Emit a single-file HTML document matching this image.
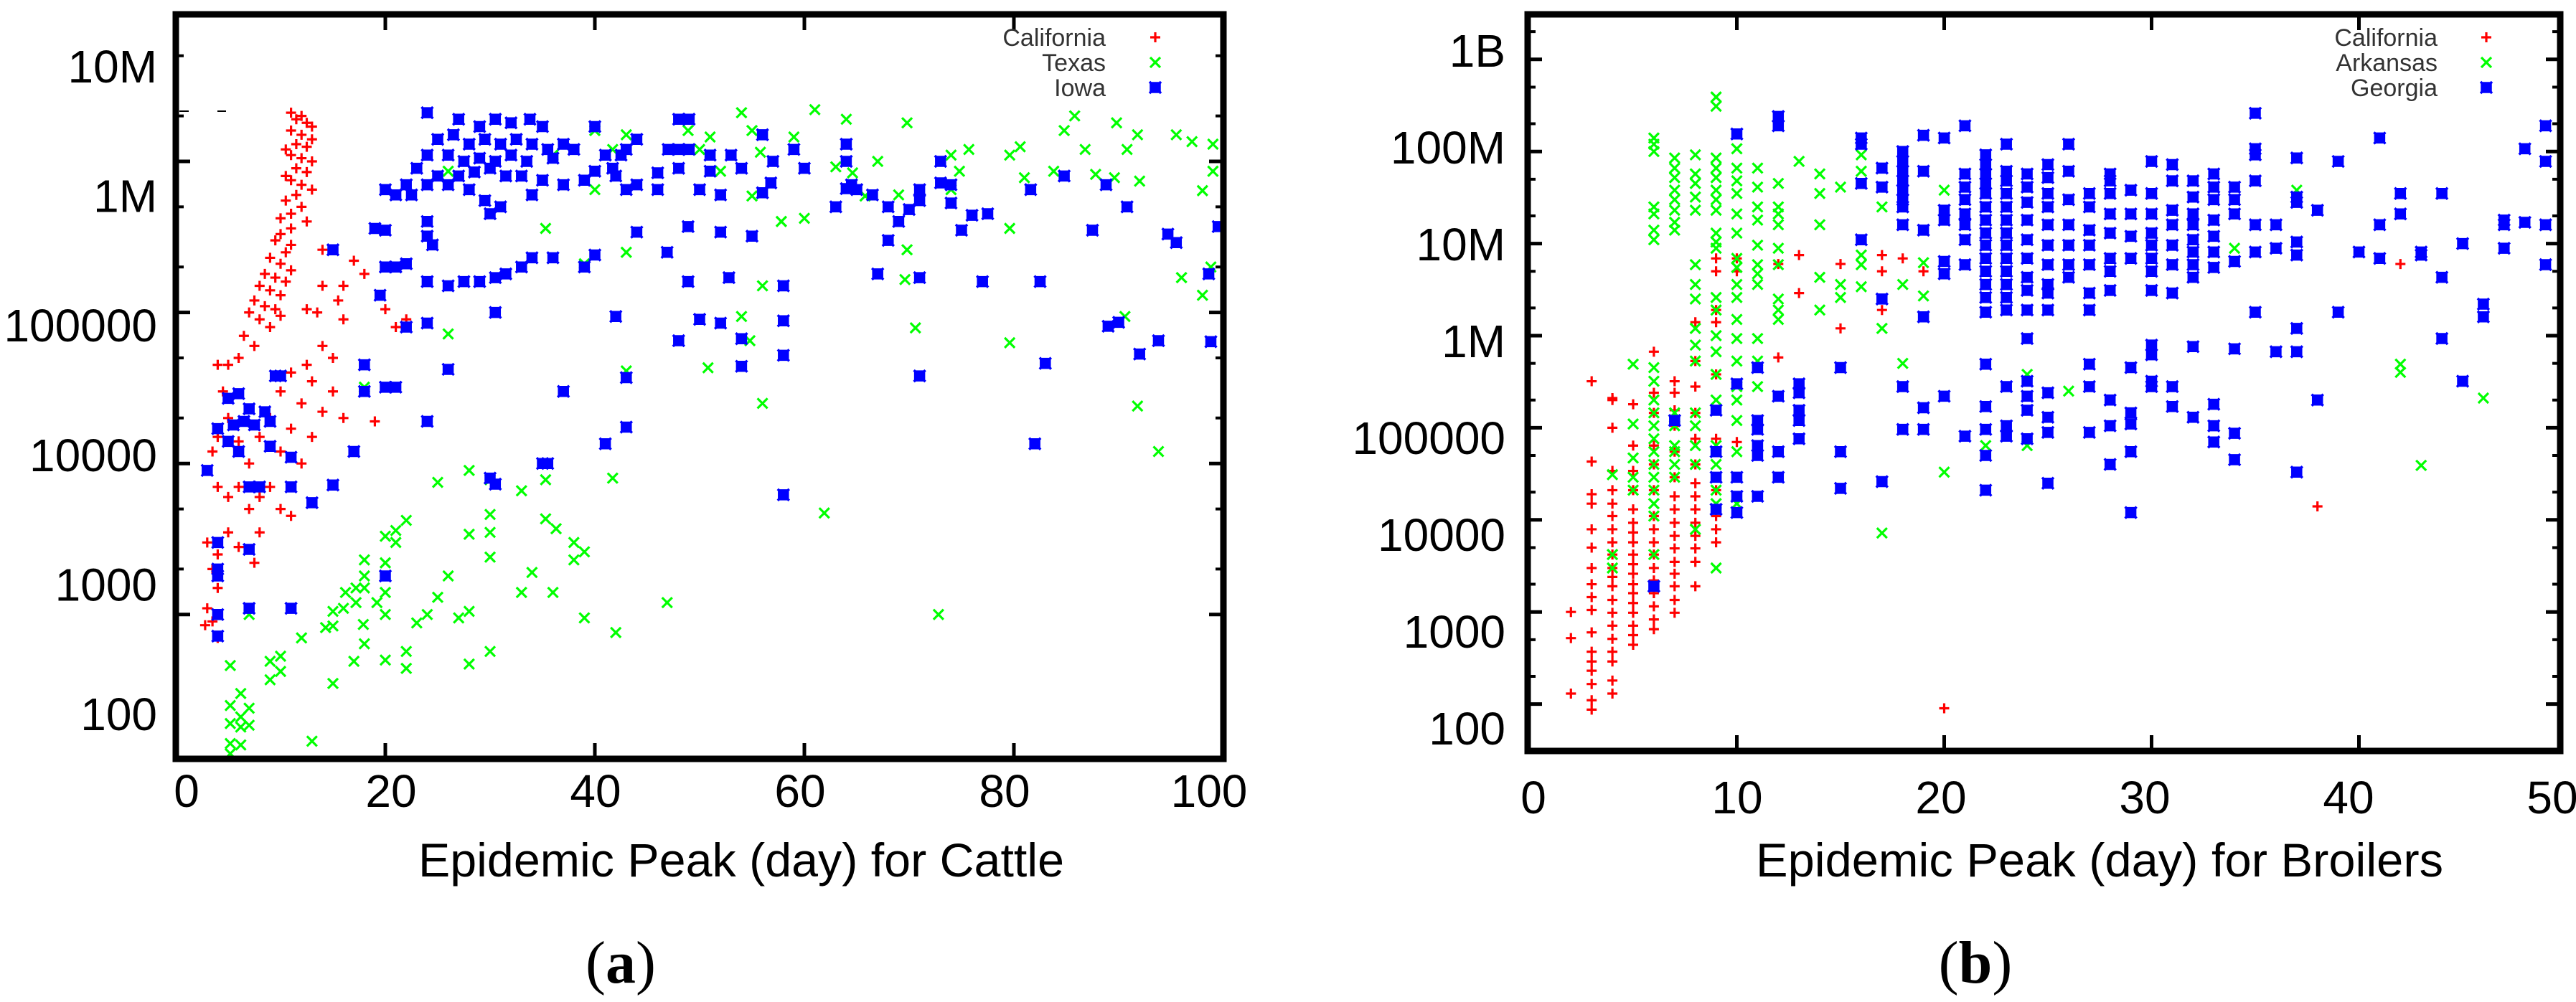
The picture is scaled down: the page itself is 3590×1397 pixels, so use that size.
<!DOCTYPE html>
<html><head><meta charset="utf-8"><style>
html,body{margin:0;padding:0;background:#fff;}
svg{display:block;}
text{font-family:"Liberation Sans",sans-serif;}
</style></head><body>
<svg id="chart" width="3590" height="1397" viewBox="0 0 3590 1397" xmlns="http://www.w3.org/2000/svg">
<g id="panelA"></g>
<g id="panelB"></g>
</svg>
<script>
// ---------- Panel (a) data: [day, peak size] ----------
const caliA = [[11,2.1e6],[12,2e6],[11.5,1.9e6],[12.5,1.8e6],[13,1.7e6],[11,1.6e6],[12,1.5e6],[13,1.4e6],[11.5,1.3e6],[12.5,1.25e6],[10.5,1.2e6],[11,1.1e6],[12,1.05e6],[13,1e6],[11.5,9e5],[12.5,8.5e5],[10.5,8e5],[11,7.5e5],[12,7e5],[13,6.5e5],[11.5,6e5],[10.5,5.5e5],[12,5e5],[11,4.5e5],[10,4.2e5],[12.5,4e5],[11,3.6e5],[10,3.3e5],[9.5,3e5],[11,2.8e5],[10.5,2.5e5],[9,2.3e5],[10,2.1e5],[11,1.9e5],[8.5,1.8e5],[9.5,1.7e5],[10.5,1.6e5],[8,1.5e5],[9,1.4e5],[10,1.3e5],[7.5,1.2e5],[8.5,1.1e5],[9.5,1.05e5],[7,1e5],[8,9e4],[9,8e4],[10,9.5e4],[6.5,7e4],[7.5,6e4],
[14,2.6e5],[17,2.2e5],[18,1.8e5],[16,1.5e5],[14,1.5e5],[12.5,1.05e5],[20,1.05e5],[22,9e4],[15.5,1.2e5],[13.5,1e5],[16,9e4],[21,8e4],[14,6e4],[15,5e4],[12.5,4.5e4],[11,4e4],[13,3.5e4],[15,3e4],[10,3e4],[12,2.5e4],[14,2.2e4],[16,2e4],[9,2e4],[11,1.7e4],[13,1.5e4],[19,1.9e4],[8,1.5e4],[10,1.2e4],[12,1e4],[6,5e4],[5,4.5e4],[4,4.5e4],[4.5,3e4],[5,2e4],[4,1.5e4],[3.5,1.2e4],[6,1.4e4],[7,1e4],[4,7e3],[5,6e3],[6,7e3],[7,5e3],[8,6e3],[9,7e3],[10,5e3],[11,4.5e3],[3,3e3],[4,2.5e3],[5,3.5e3],[6,2.8e3],[8,3.5e3],[3.5,2e3],[4,1.5e3],[7.5,2.2e3],[3,1.1e3],[3.5,900],[2.8,850],[4,700]];
const texasA = [[54,2.1e6],[61,2.2e6],[64,1.9e6],[69.8,1.8e6],[85.8,2e6],[89.8,1.8e6],[84.8,1.6e6],[91.8,1.5e6],[95.5,1.5e6],[97,1.35e6],[99,1.3e6],[86.8,1.2e6],[90.8,1.2e6],[80.6,1.25e6],[79.6,1.1e6],[75.7,1.2e6],[74,1.1e6],[74.8,8.6e5],[83.8,8.6e5],[81,7.8e5],[87.8,8.2e5],[92,7.4e5],[89.6,7.8e5],[98,6.4e5],[99,8.6e5],[67,1e6],[64.6,8.4e5],[63,9.2e5],[59,1.45e6],[55.8,1.15e6],[55,1.6e6],[51,1.45e6],[48.9,1.6e6],[50,1.2e6],[52,8.6e5],[55,5.9e5],[57.8,4e5],[60,4.2e5],[65.8,5.9e5],[69,6e5],[74,6.5e5],[79.6,3.6e5],[69.8,2.6e5],[69.6,1.65e5],[70.6,7.9e4],[79.6,6.3e4],[90.6,9.4e4],[96,1.7e5],[98,1.3e5],[98.8,2e5],[91.8,2.4e4],[93.8,1.2e4],[40,1.6e6],[41.7,1.2e6],[43,1.5e6],[40,6.5e5],[43,2.5e5],[39,2.1e5],[35.3,3.6e5],[26,8.6e5],[36,1.1e6],[56,1.5e5],[54,9.4e4],[54.8,6.5e4],[50.8,4.3e4],[43,4.1e4],[56,2.5e4],[26,7.2e4],[18,3.2e4],[41.7,8e3],[35.3,7.8e3],[33,6.6e3],[30,7.8e3],[25,7.5e3],[28,9e3],[61.9,4.7e3],[35.3,4.3e3],[36.3,3.7e3],[30,4.6e3],[30,3.5e3],[28,3.4e3],[22,4.2e3],[21,3.6e3],[20,3.3e3],[21,3e3],[38,3e3],[39,2.6e3],[38,2.3e3],[30,2.4e3],[34,1.9e3],[26,1.8e3],[18,2.3e3],[18,1.8e3],[20,2.2e3],[18,1.5e3],[17.2,1.5e3],[16.2,1.4e3],[20,1.4e3],[17.2,1.2e3],[16,1.1e3],[19.2,1.2e3],[15,1.05e3],[33,1.4e3],[36,1.4e3],[46.9,1.2e3],[72.8,1e3],[28,1.05e3],[27,950],[25,1.3e3],[24,1e3],[23,880],[20,1e3],[17.9,860],[15,840],[14.3,820],[12,700],[7,1e3],[39,950],[42,760],[18,640],[22,570],[30,570],[20,500],[22,440],[28,470],[17,490],[10,530],[9,490],[10,420],[9,370],[15,350],[5.2,460],[6.2,300],[5.2,250],[7,240],[6.2,210],[5.2,190],[6.2,180],[7,185],[5.2,140],[6.2,137],[5.2,120],[13,145]];
const iowaA = [[24,2.1e6],[27,1.9e6],[29,1.7e6],[30.5,1.9e6],[32,1.8e6],[33.8,1.9e6],[35,1.7e6],[25,1.4e6],[26.5,1.5e6],[28,1.3e6],[29.5,1.4e6],[31,1.3e6],[32.5,1.4e6],[34,1.3e6],[35.5,1.2e6],[37,1.3e6],[38,1.2e6],[24,1.1e6],[26,1.1e6],[27.5,1e6],[29,1.05e6],[30.5,1e6],[32,1.1e6],[33.5,1e6],[36,1.05e6],[23,9e5],[25,8e5],[27,8e5],[28.5,8.5e5],[30,9e5],[31.5,8e5],[33,8e5],[35,7.5e5],[37,7e5],[39,7.5e5],[22,7e5],[24,7e5],[26,7e5],[28,6.5e5],[29.5,5.5e5],[31,5e5],[30,4.5e5],[34,6e5],[20,6.5e5],[21,6e5],[22.5,6e5],[24,4e5],[24,3.2e5],[24.5,2.8e5],[20,3.5e5],[19,3.6e5],[15,2.6e5],[20,2e5],[21,2e5],[22,2.1e5],[24,1.6e5],[26,1.5e5],[27.5,1.6e5],[29,1.6e5],[30.5,1.7e5],[31.5,1.8e5],[33,2e5],[34,2.3e5],[36,2.3e5],[39,2e5],[40,2.4e5],[30.5,1e5],[22,8e4],[24,8.5e4],[19.5,1.3e5],[18,4.5e4],[18,3e4],[20,3.2e4],[21,3.2e4],[24,1.9e4],[26,4.2e4],[37,3e4],[5,2.7e4],[6,2.9e4],[7,2.3e4],[8.5,2.2e4],[9.5,3.8e4],[10,3.8e4],[5.5,1.8e4],[6.5,1.9e4],[7.5,1.8e4],[9,1.9e4],[4,1.7e4],[5,1.4e4],[6,1.2e4],[9,1.3e4],[11,1.1e4],[3,9e3],[7,7e3],[8,7e3],[11,7e3],[13,5.5e3],[15,7.2e3],[17,1.2e4],[4,3e3],[4,2e3],[4,1.8e3],[7,2.7e3],[4,1e3],[4,720],[7,1.1e3],[11,1.1e3],[20,1.8e3],[30.5,7.3e3],[35.5,1e4],[41,1.35e4],[43,1.74e4],[58,6.2e3],[82,1.35e4],[43,3.7e4],[42,9.4e4],[48,6.5e4],[50,9e4],[52,8.5e4],[54,6.7e4],[54,4.4e4],[58,8.8e4],[58,5.2e4],[71,3.8e4],[83,4.6e4],[89,8.1e4],[90,8.6e4],[92,5.3e4],[93.8,6.5e4],[98.8,6.4e4],[35,1e4],[30,8e3],[40,1.7e6],[41,1.1e6],[42.5,1.1e6],[43,1.2e6],[44,1.4e6],[48,1.9e6],[49,1.9e6],[48,1.2e6],[49,1.2e6],[47,1.2e6],[51,1.1e6],[53,1.1e6],[56,1.5e6],[59,1.2e6],[64,1.3e6],[44,7e5],[43,6.5e5],[42,8e5],[46,6.5e5],[50,6.5e5],[52,6e5],[56,6.2e5],[57,1e6],[64.5,7e5],[65,6.5e5],[66.5,6e5],[68,5e5],[69,4e5],[71,6.5e5],[71,5.5e5],[73,1e6],[74,7e5],[77.5,4.5e5],[76,4.4e5],[75,3.5e5],[68,3e5],[84.8,8e5],[81.6,6.5e5],[88.8,7e5],[90.8,5e5],[87.5,3.5e5],[94.7,3.3e5],[95.5,2.9e5],[99.5,3.7e5],[98.6,1.8e5],[82.5,1.6e5],[77,1.6e5],[71,1.7e5],[67,1.8e5],[58,1.5e5],[52.8,1.7e5],[48.9,1.6e5],[46.9,2.5e5],[55,3.2e5],[52,3.4e5],[48.9,3.7e5],[44,3.4e5],[60,9e5],[64,1e6],[64,6.6e5],[56.8,7.2e5],[54,9e5],[51,8.6e5],[48,9e5],[46,8.4e5],[41.7,9e5],[40,8.6e5],[73,7.2e5],[74,5.3e5],[70,4.8e5],[63,5e5]];
const yTicksA = [100,1000,10000,100000,1e6,1e7];
const yLabelsA = ["100","1000","10000","100000","1M","10M"];
const xTicksA = [0,20,40,60,80,100];

// ---------- Panel (b) data ----------
const caliB = [[2,1e3],[2,520],[2,130],
[3,3.2e5],[3,4.3e4],[3,1.9e4],[3,1.5e4],[3,7.9e3],[3,5e3],[3,3e3],[3,2e3],[3,1.45e3],[3,1.05e3],[3,600],[3,370],[3,290],[3,230],[3,165],[3,110],[3,87],
[4,2.1e5],[4,2e5],[4,1e5],[4,3.4e4],[4,2.1e4],[4,1.5e4],[4,1.1e4],[4,7.9e3],[4,5.7e3],[4,4.2e3],[4,3e3],[4,2.4e3],[4,1.9e3],[4,1.35e3],[4,980],[4,710],[4,510],[4,370],[4,290],[4,180],[4,130],
[5,1.8e5],[5,6.4e4],[5,3.4e4],[5,2.1e4],[5,1.3e4],[5,9.3e3],[5,7.3e3],[5,5.7e3],[5,4.2e3],[5,3.3e3],[5,2.6e3],[5,2e3],[5,1.6e3],[5,1.25e3],[5,980],[5,710],[5,560],[5,440],
[6,6.7e5],[6,2.4e5],[6,1.45e5],[6,6.4e4],[6,4e4],[6,2.1e4],[6,1.1e4],[6,7.9e3],[6,5.7e3],[6,4.2e3],[6,3e3],[6,2.2e3],[6,1.6e3],[6,1.15e3],[6,830],[6,650],
[7,3.2e5],[7,2.4e5],[7,1.55e5],[7,1.05e5],[7,5.5e4],[7,2.9e4],[7,1.8e4],[7,1.3e4],[7,9.3e3],[7,6.7e3],[7,4.9e3],[7,3.5e3],[7,2.6e3],[7,1.9e3],[7,1.35e3],[7,980],
[8,1.4e6],[8,5.3e5],[8,2.8e5],[8,1.45e5],[8,7.6e4],[8,4e4],[8,2.5e4],[8,1.8e4],[8,1.3e4],[8,9.3e3],[8,6.7e3],[8,4.9e3],[8,3.5e3],[8,1.9e3],
[9,6.9e6],[9,5e6],[9,1.9e6],[9,1.4e6],[9,3.8e5],[9,7.6e4],[9,2.1e4],[9,1.1e4],[9,7.9e3],[9,5.7e3],
[10,6.9e6],[10,5e6],[10,7e4],[12,6e6],[12,5.8e5],[13,7.5e6],[13,2.9e6],[15,6e6],[15,1.2e6],[17,7.5e6],[17,5e6],[17,1.9e6],[18,6.9e6],[19,5e6],[20,90],[38,1.4e4],[42,6e6]];
const arkB = [[6,1.4e8],[6,1.2e8],[6,1e8],[6,2.5e7],[6,2.1e7],[6,1.4e7],[6,1.1e7],[6,4.5e5],[6,3.2e5],[6,2e5],[6,1.45e5],[6,1.05e5],[6,7.6e4],[6,5.5e4],[6,4e4],[6,2.9e4],[6,2.1e4],[6,1.5e4],[6,1.1e4],[6,4.2e3],
[7,8.5e7],[7,6.6e7],[7,5.2e7],[7,3.8e7],[7,3e7],[7,2.3e7],[7,1.7e7],[7,1.4e7],[7,1.45e5],[7,1.05e5],[7,6.4e4],[7,5.5e4],[7,4e4],[7,2.9e4],
[8,9.2e7],[8,5.7e7],[8,4.5e7],[8,3.2e7],[8,2.3e7],[8,5.9e6],[8,3.6e6],[8,2.5e6],[8,1.2e6],[8,7.9e5],[8,5.3e5],[8,1.45e5],[8,1.05e5],[8,6.4e4],[8,4e4],[8,7.9e3],
[9,3.9e8],[9,3.1e8],[9,8.5e7],[9,6.6e7],[9,5.2e7],[9,3.8e7],[9,3e7],[9,2.3e7],[9,1.3e7],[9,1.04e7],[9,8.9e6],[9,2.6e6],[9,1.9e6],[9,1e6],[9,6.7e5],[9,3.8e5],[9,2e5],[9,6.4e4],[9,4e4],[9,2.1e4],[9,1.5e4],[9,3e3],
[10,1.07e8],[10,6.6e7],[10,4.8e7],[10,3.5e7],[10,2.1e7],[10,1.3e7],[10,6.9e6],[10,5.5e6],[10,3.6e6],[10,2.6e6],[10,1.5e6],[10,9.3e5],[10,5.3e5],[10,2.8e5],[10,2e5],[10,1.2e5],[10,5.5e4],[10,1.5e4],
[11,6.6e7],[11,4.1e7],[11,2.5e7],[11,1.8e7],[11,9.6e6],[11,5.9e6],[11,4.7e6],[11,3.6e6],[11,9.3e5],[11,5.3e5],[11,2.8e5],
[12,4.5e7],[12,2.5e7],[12,2.1e7],[12,1.6e7],[12,8.9e6],[12,5.9e6],[12,2.5e6],[12,1.9e6],[12,1.5e6],
[5,4.9e5],[5,1.1e5],[5,4.7e4],[5,2.9e4],[5,2.1e4],[4,3.1e4],[4,4.2e3],[4,3e3],
[13,7.8e7],[14,5.7e7],[14,3.5e7],[14,1.6e7],[14,4.3e6],[14,1.9e6],[15,4.1e7],[15,3.6e6],[15,2.6e6],[16,9.2e7],[16,6.1e7],[16,7.5e6],[16,5.9e6],[16,3.4e6],[17,2.5e7],[17,1.2e6],[17,7.2e3],[18,3.6e6],[18,5e5],[19,6.2e6],[19,2.7e6],[20,3.8e7],[20,3.3e4],[22,2.6e6],[22,6.4e4],[24,1.8e7],[24,3.8e5],[24,6.4e4],[26,2.5e5],[34,8.9e6],[37,3.8e7],[42,4.9e5],[42,4e5],[43,3.9e4],[46,2.1e5]];
const geoB = [[12,2.4e8],[12,1.9e8],[10,1.55e8],[16,1.4e8],[16,1.2e8],[16,4.5e7],[16,1.1e7],[17,6.6e7],[17,4.1e7],[17,2.5e6],
[18,1e8],[18,7.8e7],[18,6.1e7],[18,4.8e7],[18,3.8e7],[18,3e7],[18,2.5e7],[18,1.6e7],[18,2.8e5],[18,9.6e4],
[19,1.5e8],[19,6.1e7],[19,1.4e7],[19,1.6e6],[19,1.65e5],[19,9.6e4],
[20,1.4e8],[20,2.3e7],[20,1.8e7],[20,6.4e6],[20,4.7e6],[20,2.2e5],
[21,1.9e8],[21,5.7e7],[21,4.1e7],[21,3e7],[21,2.1e7],[21,1.6e7],[21,1.1e7],[21,5.9e6],[21,8.1e4],
[22,9.2e7],[22,7.2e7],[22,5.7e7],[22,4.5e7],[22,3.5e7],[22,2.5e7],[22,1.8e7],[22,1.3e7],[22,9.6e6],[22,6.9e6],[22,5e6],[22,3.6e6],[22,2.6e6],[22,1.8e6],[22,4.9e5],[22,1.7e5],[22,9.6e4],[22,5e4],[22,2.1e4],
[23,1.2e8],[23,6.1e7],[23,4.8e7],[23,3.5e7],[23,2.5e7],[23,1.8e7],[23,1.3e7],[23,9.6e6],[23,6.9e6],[23,5e6],[23,3.6e6],[23,2.6e6],[23,1.9e6],[23,2.8e5],[23,1.05e5],[23,8.1e4],
[24,5.7e7],[24,4.1e7],[24,2.8e7],[24,1.8e7],[24,1.1e7],[24,6.9e6],[24,4.3e6],[24,3.1e6],[24,1.9e6],[24,9.3e5],[24,3.2e5],[24,2.2e5],[24,1.55e5],[24,7.6e4],
[25,7.2e7],[25,5.2e7],[25,3.5e7],[25,2.5e7],[25,1.6e7],[25,9.6e6],[25,5.9e6],[25,3.6e6],[25,2.9e6],[25,1.9e6],[25,2.4e5],[25,1.3e5],[25,8.9e4],[25,2.5e4],
[26,1.2e8],[26,6.1e7],[26,3e7],[26,1.6e7],[26,9.6e6],[26,5.9e6],[26,4.3e6],
[27,3.5e7],[27,2.5e7],[27,1.4e7],[27,9.6e6],[27,5.9e6],[27,2.9e6],[27,1.9e6],[27,4.9e5],[27,2.8e5],[27,8.9e4],
[28,5.7e7],[28,4.8e7],[28,3.5e7],[28,2.1e7],[28,1.3e7],[28,6.9e6],[28,5e6],[28,3.1e6],[28,2e5],[28,1.05e5],[28,4e4],
[29,3.8e7],[29,2.1e7],[29,1.2e7],[29,6.9e6],[29,4.5e5],[29,1.45e5],[29,1.1e5],[29,5.5e4],[29,1.2e4],
[30,7.8e7],[30,3.5e7],[30,2.1e7],[30,1.3e7],[30,9.6e6],[30,6.9e6],[30,5e6],[30,3.1e6],[30,7.9e5],[30,6.2e5],[30,3.2e5],[30,2.8e5],
[31,7.2e7],[31,4.8e7],[31,2.3e7],[31,1.6e7],[31,9.6e6],[31,5.9e6],[31,2.9e6],[31,2.8e5],[31,1.7e5],
[32,4.8e7],[32,3.2e7],[32,2.1e7],[32,1.6e7],[32,1.1e7],[32,8.1e6],[32,5.9e6],[32,4.3e6],[32,7.6e5],[32,1.3e5],
[33,5.7e7],[33,4.1e7],[33,3e7],[33,1.8e7],[33,1.2e7],[33,8.1e6],[33,5.5e6],[33,1.8e5],[33,1.05e5],[33,7e4],
[34,4.1e7],[34,3e7],[34,2.1e7],[34,6.4e6],[34,7.2e5],[34,8.7e4],[34,4.5e4],
[35,2.6e8],[35,1.07e8],[35,9.2e7],[35,4.8e7],[35,1.6e7],[35,8.1e6],[35,1.8e6],
[36,1.6e7],[36,8.9e6],[36,6.7e5],
[37,8.5e7],[37,3.2e7],[37,2.8e7],[37,1.04e7],[37,7.5e6],[37,1.2e6],[37,6.7e5],[37,3.3e4],
[38,2.3e7],[38,2e5],[39,7.8e7],[39,1.8e6],[40,8.1e6],[41,1.4e8],[41,1.6e7],[41,6.9e6],[42,3.5e7],[42,2.1e7],[43,8.1e6],[43,7.5e6],[44,3.5e7],[44,4.3e6],[44,9.3e5],[45,1e7],[45,3.2e5],[46,2.2e6],[46,1.6e6],[47,1.8e7],[47,1.6e7],[47,8.9e6],[48,1.07e8],[48,1.7e7],[49,1.9e8],[49,7.8e7],[49,1.6e7],[49,5.9e6],[50,2.4e8],[50,1.25e8],
[7,1.2e5],[6,1.9e3],[9,1.55e5],[9,5.5e4],[9,2.9e4],[9,1.3e4],[10,3e5],[10,2.9e4],[10,1.8e4],[10,1.2e4],[11,4.5e5],[11,1.2e5],[11,9.6e4],[11,6.4e4],[11,5e4],[11,1.8e4],[12,2.2e5],[12,5.5e4],[12,2.9e4],[13,3e5],[13,2.4e5],[13,1.55e5],[13,1.2e5],[13,7.6e4],[15,4.5e5],[15,5.5e4],[15,2.2e4],[17,2.6e4]];
const yTicksB = [100,1000,10000,100000,1e6,1e7,1e8,1e9];
const yLabelsB = ["100","1000","10000","100000","1M","10M","100M","1B"];
const xTicksB = [0,10,20,30,40,50];

const NS = "http://www.w3.org/2000/svg";
function mk(parent, tag, attrs, txt){
  const e = document.createElementNS(NS, tag);
  for (const k in attrs) e.setAttribute(k, attrs[k]);
  if (txt !== undefined) e.textContent = txt;
  parent.appendChild(e);
  return e;
}
// axis functions
const xA = d => 245 + d * 14.6;
const yA = v => 225 - (Math.log10(v) - 6) * 210.6;
const xLabA = d => 260 + d * 14.25;
const yLabA = i => 995 - i * 180.6;
const xB = d => 2131.5 + d * 28.9;
const yB = v => 82.8 + (9 - Math.log10(v)) * 128.4;
const xLabB = d => 2137 + d * 28.4;
const yLabB = i => 1015 - i * 135;

function marker(g, kind, cx, cy){
  const s = 7;
  let m;
  if (kind === 'plus'){
    m = mk(g, 'path', {d:`M${cx-s} ${cy}H${cx+s}M${cx} ${cy-s}V${cy+s}`, stroke:'#ff0000', 'stroke-width':3.2, fill:'none'});
    
  } else if (kind === 'x'){
    m = mk(g, 'path', {d:`M${cx-s} ${cy-s}L${cx+s} ${cy+s}M${cx-s} ${cy+s}L${cx+s} ${cy-s}`, stroke:'#00ff00', 'stroke-width':3.2, fill:'none'});
    
  } else {
    m = mk(g, 'path', {d:`M${cx-8} ${cy-8}L${cx+8} ${cy+8}M${cx-8} ${cy+8}L${cx+8} ${cy-8}M${cx-6} ${cy-6}h12v12h-12z`, stroke:'#0000ff', 'stroke-width':3.5, fill:'#0000ff'});
    
  }
  
}

function panel(g, o){
  const L=o.left, R=o.right, T=o.top, B=o.bottom;
  o.series.forEach(sr => {
    const sg = mk(g, 'g', {});
    
    
    sr.data.forEach(p => {
      const cx = o.x(p[0]), cy = o.y(p[1]);
      if (cx < L-4 || cx > R+4 || cy < T || cy > B) return;
      marker(sg, sr.kind, cx, cy);
    });
  });
  o.yTicks.forEach(v => {
    const y = o.y(v);
    if (y < T || y > B) return;
    const t1 = mk(g, 'path', {d:`M${L} ${y}h20M${R} ${y}h-20`, stroke:'#000', 'stroke-width':5});
    
    
    [2,5].forEach(m => {
      const ym = o.y(v*m);
      if (ym < T+4 || ym > B-4) return;
      const t2 = mk(g, 'path', {d:`M${L} ${ym}h11M${R} ${ym}h-11`, stroke:'#000', 'stroke-width':4});
      
      
    });
  });
  o.xTicks.forEach(d => {
    const x = o.x(d);
    if (x <= L+3 || x >= R-3) return;
    const t = mk(g, 'path', {d:`M${x} ${B}v-22M${x} ${T}v22`, stroke:'#000', 'stroke-width':5});
    
    
  });
  const fr = mk(g, 'rect', {x:L, y:T, width:R-L, height:B-T, fill:'none', stroke:'#000', 'stroke-width':9});
  
  
  o.yLabels.forEach((s, i) => {
    const t = mk(g, 'text', {x:o.yLabX, y:o.yLab(i)+23, 'font-size':64, 'text-anchor':'end', fill:'#000'}, s);
    
    
  });
  o.xTicks.forEach(d => {
    const t = mk(g, 'text', {x:o.xLab(d), y:o.xLabY, 'font-size':64, 'text-anchor':'middle', fill:'#000'}, String(d));
    
    
  });
  const xt = mk(g, 'text', {x:o.titleX, y:1222, 'font-size':66, 'text-anchor':'middle', fill:'#000', textLength:o.titleW, lengthAdjust:'spacingAndGlyphs'}, o.title);
  
  
  const cap = mk(g, 'text', {x:o.capX, y:1370, 'font-size':84, 'text-anchor':'middle', fill:'#000', style:'font-family:"Liberation Serif",serif'});
  
  
  mk(cap, 'tspan', {}, '(');
  mk(cap, 'tspan', {'font-weight':'bold'}, o.cap);
  mk(cap, 'tspan', {}, ')');
  const lg = mk(g, 'g', {});
  
  
  o.series.forEach((sr, i) => {
    const y = 52 + i*35;
    const t = mk(lg, 'text', {x:o.legX, y:y+12, 'font-size':34, 'text-anchor':'end', fill:'#333'}, sr.label);
    
    
    marker(lg, sr.kind, o.legM, y);
  });
}

const gA = document.getElementById('panelA');
panel(gA, {left:245, right:1705, top:20, bottom:1058, x:xA, y:yA, xLab:xLabA, yLab:yLabA, yLabX:219, xLabY:1125,
  yTicks:yTicksA, yLabels:yLabelsA, xTicks:xTicksA, title:'Epidemic Peak (day) for Cattle', titleX:1033, titleW:900, cap:'a', capX:865,
  legX:1541, legM:1610,
  series:[{name:'series-california', label:'California', kind:'plus', data:caliA},{name:'series-texas', label:'Texas', kind:'x', data:texasA},{name:'series-iowa', label:'Iowa', kind:'box', data:iowaA}]});
const gB = document.getElementById('panelB');
panel(gB, {left:2129, right:3568, top:20, bottom:1047, x:xB, y:yB, xLab:xLabB, yLab:yLabB, yLabX:2098, xLabY:1134,
  yTicks:yTicksB, yLabels:yLabelsB, xTicks:xTicksB, title:'Epidemic Peak (day) for Broilers', titleX:2926, titleW:958, cap:'b', capX:2753,
  legX:3397, legM:3465,
  series:[{name:'series-california', label:'California', kind:'plus', data:caliB},{name:'series-arkansas', label:'Arkansas', kind:'x', data:arkB},{name:'series-georgia', label:'Georgia', kind:'box', data:geoB}]});
const dsh = mk(gA, 'path', {d:'M250 155h13M303 155h12', stroke:'#000', 'stroke-width':2});


</script>
</body></html>
